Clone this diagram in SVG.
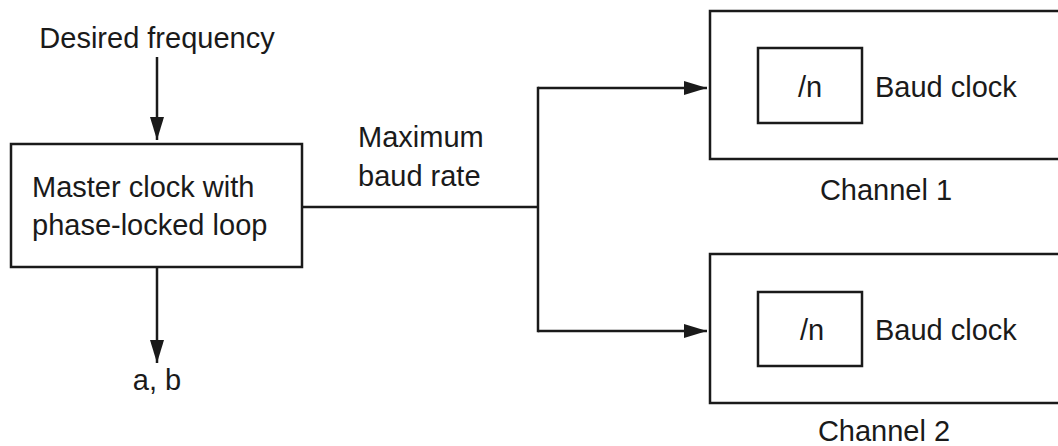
<svg xmlns="http://www.w3.org/2000/svg" width="1058" height="446" viewBox="0 0 1058 446">
<style>
.box{fill:#fff;stroke:#1a1a1a;stroke-width:2.5}
.ln{fill:none;stroke:#1a1a1a;stroke-width:2.5}
text{font-family:"Liberation Sans",Arial,sans-serif;font-size:29px;fill:#1a1a1a}
.c{text-anchor:middle}
</style>
<defs>
<marker id="ah" markerUnits="userSpaceOnUse" markerWidth="23" markerHeight="14" refX="23" refY="7" orient="auto">
<path d="M0,0 L23,7 L0,14 z" fill="#1a1a1a"/>
</marker>
</defs>
<rect width="1058" height="446" fill="#fff"/>
<g id="connectors">
<line class="ln" x1="157" y1="57" x2="157" y2="140" marker-end="url(#ah)"/>
<line class="ln" x1="157" y1="267" x2="157" y2="363" marker-end="url(#ah)"/>
<line class="ln" x1="302" y1="207" x2="538" y2="207"/>
<line class="ln" x1="538" y1="86.75" x2="538" y2="332.25"/>
<line class="ln" x1="538" y1="88" x2="707" y2="88" marker-end="url(#ah)"/>
<line class="ln" x1="538" y1="331" x2="707" y2="331" marker-end="url(#ah)"/>
</g>
<g id="label-desired"><text class="c" x="157" y="48">Desired frequency</text></g>
<g id="master">
<rect class="box" x="11" y="144" width="291" height="123"/>
<text x="32" y="197">Master clock with</text>
<text x="32" y="235">phase-locked loop</text>
</g>
<g id="label-ab"><text class="c" x="157" y="390">a, b</text></g>
<g id="label-max">
<text x="358" y="147">Maximum</text>
<text x="358" y="186">baud rate</text>
</g>
<g id="channel1">
<rect class="box" x="710" y="11" width="370" height="148"/>
<rect class="box" x="758" y="48" width="104" height="75"/>
<text class="c" x="810" y="97">/n</text>
<text x="875" y="97">Baud clock</text>
<text class="c" x="886" y="200">Channel 1</text>
</g>
<g id="channel2">
<rect class="box" x="710" y="254" width="370" height="149"/>
<rect class="box" x="758" y="292" width="104" height="74"/>
<text class="c" x="812" y="340">/n</text>
<text x="875" y="340">Baud clock</text>
<text class="c" x="884" y="441">Channel 2</text>
</g>
</svg>
